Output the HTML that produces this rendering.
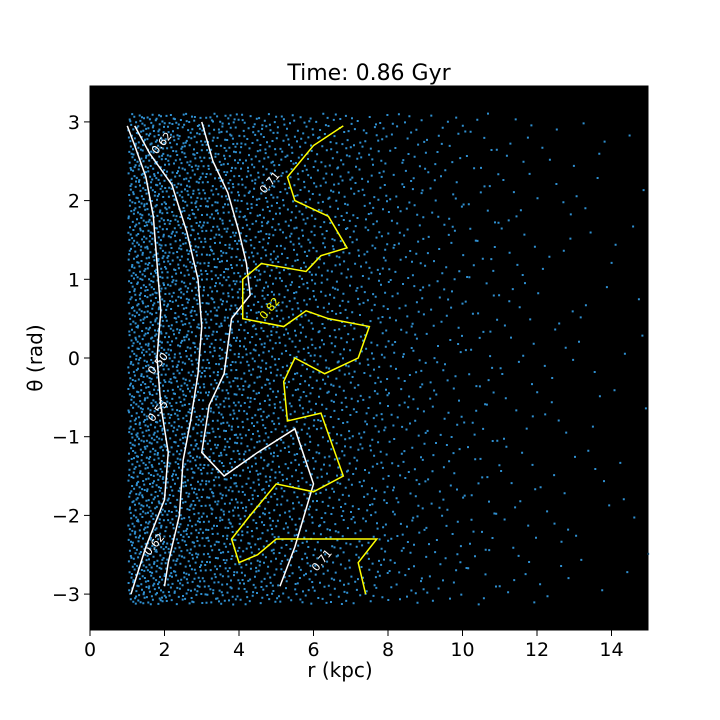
<!DOCTYPE html>
<html><head><meta charset="utf-8"><style>
body{margin:0;background:#fff;}
svg{display:block;font-family:"DejaVu Sans","Liberation Sans",sans-serif;}
</style></head><body>
<svg id="chart" width="720" height="720">
<text x="369" y="80" font-size="22" text-anchor="middle">Time: 0.86 Gyr</text>
<rect x="90" y="86" width="558" height="544" fill="#000"/>
<g id="pts"></g>
<g id="cont"></g>
<g id="axes"></g>
<text x="340" y="677" font-size="20" text-anchor="middle">r (kpc)</text>
<text transform="translate(42,358) rotate(-90)" font-size="20" text-anchor="middle">θ (rad)</text>
</svg>
<script>
const xTicks=[0,2,4,6,8,10,12,14];
const yTicks=[-3,-2,-1,0,1,2,3];
const binStarts=[1,2,3,4,5,6,7,8,9,10,11,12,13,14];
const binCounts=[1000,780,650,540,430,350,270,180,120,85,55,35,22,14];
const contourWhite1=[[1.0,2.95],[1.2,2.7],[1.5,2.3],[1.7,1.8],[1.8,1.2],[1.9,0.6],[1.8,0],[1.9,-0.6],[2.1,-1.2],[2.0,-1.8],[1.5,-2.4],[1.1,-3.0]];
const contourWhite2=[[1.2,2.95],[1.6,2.6],[2.2,2.2],[2.6,1.6],[2.9,1.0],[3.0,0.4],[2.9,-0.2],[2.7,-0.8],[2.5,-1.3],[2.4,-2.0],[2.1,-2.6],[2.0,-2.9]];
const contourWhite3=[[3.0,3.0],[3.3,2.5],[3.7,2.1],[4.0,1.6],[4.2,1.2],[4.3,0.8],[3.8,0.5],[3.6,-0.2],[3.2,-0.6],[3.0,-1.2],[3.6,-1.5],[4.5,-1.2],[5.5,-0.9],[6.0,-1.6],[5.5,-2.4],[5.1,-2.9]];
const contourYellow=[[6.8,2.95],[6.0,2.7],[5.3,2.3],[5.5,2.0],[6.4,1.8],[6.9,1.4],[6.2,1.3],[5.8,1.1],[4.6,1.2],[4.1,1.0],[4.1,0.5],[5.2,0.4],[5.8,0.6],[6.4,0.5],[7.5,0.4],[7.2,0],[6.3,-0.2],[5.5,0],[5.2,-0.3],[5.3,-0.8],[6.2,-0.7],[6.8,-1.5],[6.0,-1.7],[5.0,-1.6],[4.3,-2.0],[3.8,-2.3],[4.0,-2.6],[4.5,-2.5],[5.0,-2.3],[6.0,-2.3],[7.0,-2.3],[7.7,-2.3],[7.2,-2.6],[7.4,-3.0]];
const contourLabels=[["0.62",2.0,2.7,"#fff"],["0.71",4.9,2.2,"#fff"],["0.82",4.9,0.6,"#ff0"],["0.50",1.9,-0.1,"#fff"],["0.55",1.9,-0.7,"#fff"],["0.62",1.8,-2.4,"#fff"],["0.71",6.3,-2.6,"#fff"]];
const NS="http://www.w3.org/2000/svg";
const X=v=>90+v*37.25, Y=v=>358-v*78.7;
function mk(t,a,p){const e=document.createElementNS(NS,t);for(const k in a)e.setAttribute(k,a[k]);p.appendChild(e);return e;}
const pts=document.getElementById('pts');
function halton(i,b){let f=1,r=0;while(i>0){f/=b;r+=f*(i%b);i=Math.floor(i/b);}return r;}
let idx=1,d='';
binStarts.forEach((r0,bi)=>{for(let k=0;k<binCounts[bi];k++,idx++){const r=r0+halton(idx,2),t=-3.12+6.24*halton(idx,3);d+=`M${X(r).toFixed(1)},${Y(t).toFixed(1)}h2v2h-2z`;}});
const pp=mk('path',{d:d,fill:'#2f8fd0'},pts);


const cont=document.getElementById('cont');
[[contourWhite1,'#fff'],[contourWhite2,'#fff'],[contourWhite3,'#fff'],[contourYellow,'#ff0']].forEach((c,i)=>{
 const p=mk('polyline',{points:c[0].map(q=>X(q[0])+','+Y(q[1])).join(' '),fill:'none',stroke:c[1],'stroke-width':1.5},cont);
 
 
});
contourLabels.forEach(l=>{const t=mk('text',{x:X(l[1]),y:Y(l[2]),fill:l[3],'font-size':11,'text-anchor':'middle',transform:`rotate(-50 ${X(l[1])} ${Y(l[2])})`},cont);t.textContent=l[0];
 
 });
const ax=document.getElementById('axes');
mk('rect',{x:90,y:86,width:558,height:544,fill:'none',stroke:'#000','stroke-width':1},ax);
xTicks.forEach(v=>{mk('line',{x1:X(v),x2:X(v),y1:630,y2:636,stroke:'#000'},ax);const t=mk('text',{x:X(v),y:656,'font-size':19,'text-anchor':'middle'},ax);t.textContent=v;
 
 });
yTicks.forEach(v=>{mk('line',{x1:84,x2:90,y1:Y(v),y2:Y(v),stroke:'#000'},ax);const t=mk('text',{x:80,y:Y(v)+7,'font-size':19,'text-anchor':'end'},ax);t.textContent=v<0?'−'+(-v):v;
 
 });
</script>
</body></html>
